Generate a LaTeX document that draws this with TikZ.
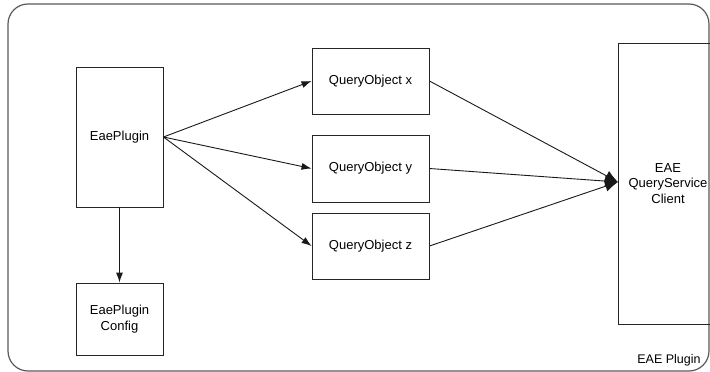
\documentclass[tikz,border=0pt]{standalone}
\usepackage{fontspec}
\setmainfont{Liberation Sans}
\usetikzlibrary{arrows.meta}
\begin{document}
\begin{tikzpicture}[x=1pt,y=-1pt,
  box/.style={draw=black!85, line width=0.9pt, rectangle, inner sep=0pt, align=center, font=\fontsize{13}{15.5}\selectfont},
  conn/.style={draw=black!90, line width=0.9pt, -{Latex[length=10pt,width=7pt]}},
  bigconn/.style={draw=black!90, line width=0.9pt, -{Latex[length=13pt,width=11pt]}},
  frame/.style={draw=black!65, line width=1.2pt, rounded corners=20pt}]
\useasboundingbox (0,0) rectangle (710,372);
\clip (0,0) rectangle (710,372);
\draw[frame] (8,4) rectangle (709,371);
\node[box, minimum width=87pt, minimum height=140pt] (ep) at (119.5,137) {EaePlugin};
\node[box, minimum width=87pt, minimum height=72pt] (epc) at (119.5,319) {EaePlugin\\Config};
\node[box, minimum width=117pt, minimum height=66pt] (qx) at (370.5,81) {QueryObject x};
\node[box, minimum width=117pt, minimum height=67pt] (qy) at (370.5,168.5) {QueryObject y};
\node[box, minimum width=117pt, minimum height=66pt] (qz) at (370.5,246) {QueryObject z};
\node[box, minimum width=100pt, minimum height=281pt] (qs) at (668,183.5) {EAE\\QueryService\\Client};
\node[font=\fontsize{12.5}{14}\selectfont, inner sep=0pt] (lbl) at (669,360) {EAE Plugin};
\coordinate (tgt) at (618,182);
\draw[conn] (ep.south) -- (epc.north);
\draw[conn] (ep.east) -- (qx.west);
\draw[conn] (ep.east) -- (qy.west);
\draw[conn] (ep.east) -- (qz.west);
\draw[bigconn] (qx.east) -- (tgt);
\draw[bigconn] (qy.east) -- (tgt);
\draw[bigconn] (qz.east) -- (tgt);
\end{tikzpicture}
\end{document}
